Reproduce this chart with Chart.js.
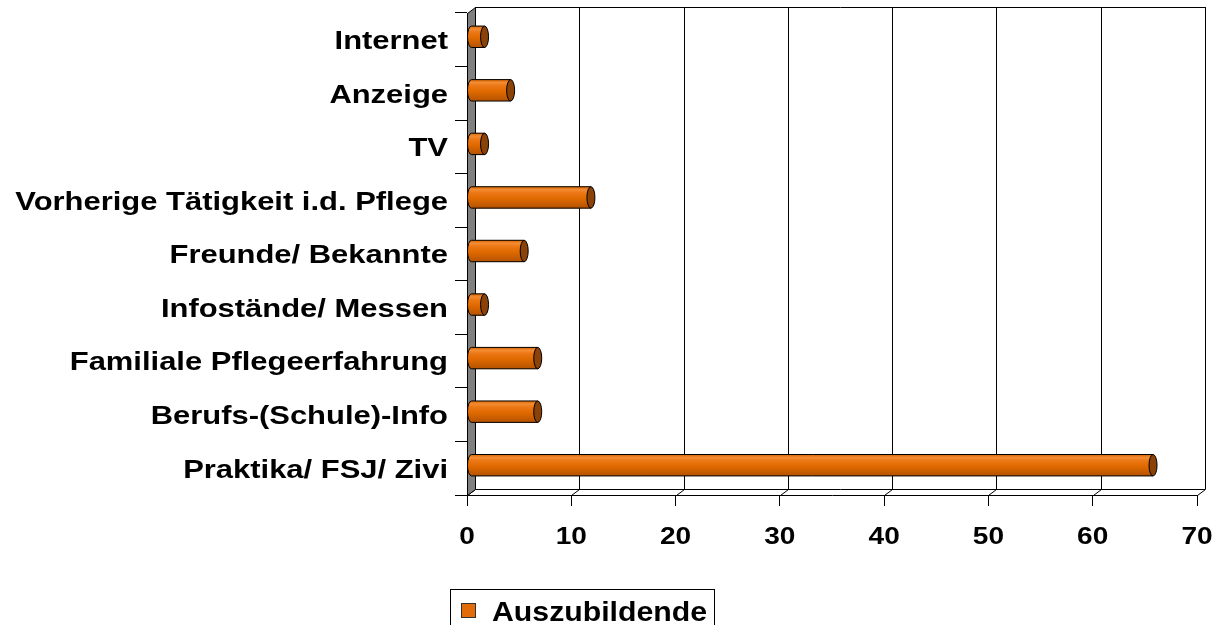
<!DOCTYPE html>
<html>
<head>
<meta charset="utf-8">
<script src="https://cdn.jsdelivr.net/npm/chart.js@4.4.1/dist/chart.umd.min.js"></script>
<style>
  html, body { margin: 0; padding: 0; background: #fff; }
  canvas { display: block; }
</style>
</head>
<body>
<canvas id="grafica" width="1222" height="625"></canvas>
<script>
// Daten (Prozent, von oben nach unten)
const kategorien = [
  'Internet',
  'Anzeige',
  'TV',
  'Vorherige Tätigkeit i.d. Pflege',
  'Freunde/ Bekannte',
  'Infostände/ Messen',
  'Familiale Pflegeerfahrung',
  'Berufs-(Schule)-Info',
  'Praktika/ FSJ/ Zivi'
];
const auszubildende = [1.3, 3.8, 1.3, 11.5, 5.1, 1.3, 6.4, 6.4, 65.4];
const xTicks = [0, 10, 20, 30, 40, 50, 60, 70];
const serienName = 'Auszubildende';

const TIEFE_X = 8, TIEFE_Y = -6;   // 3D-Tiefe der Rückwand
const FONT = '"Liberation Sans", Arial, sans-serif';

// gestreckte Schrift wie im Original
function textGestreckt(ctx, txt, x, y, size, sx, align) {
  ctx.save();
  ctx.font = 'bold ' + size + 'px ' + FONT;
  ctx.fillStyle = '#000';
  ctx.textAlign = align;
  ctx.textBaseline = 'alphabetic';
  ctx.translate(x, y);
  ctx.scale(sx, 1);
  ctx.fillText(txt, 0, 0);
  ctx.restore();
}

function zylinder(ctx, el) {
  const { x, y, base, height } = el.getProps(['x', 'y', 'base', 'height'], true);
  const top = y - height / 2, bot = y + height / 2;
  const rx = 4;
  const g = ctx.createLinearGradient(0, top, 0, bot);
  g.addColorStop(0, '#d86600');
  g.addColorStop(0.14, '#f38c34');
  g.addColorStop(0.28, '#ec7816');
  g.addColorStop(0.55, '#e06a00');
  g.addColorStop(1, '#b45200');
  ctx.beginPath();
  ctx.moveTo(x, top);
  ctx.lineTo(base, top);
  ctx.ellipse(base, y, rx, height / 2, 0, -Math.PI / 2, Math.PI / 2, true);
  ctx.lineTo(x, bot);
  ctx.closePath();
  ctx.fillStyle = g;
  ctx.fill();
  ctx.strokeStyle = '#000';
  ctx.lineWidth = 1;
  ctx.stroke();
  // Deckel
  ctx.beginPath();
  ctx.ellipse(x, y, rx, height / 2, 0, 0, Math.PI * 2);
  ctx.fillStyle = '#8a4208';
  ctx.fill();
  ctx.stroke();
}

const rahmen3d = {
  id: 'rahmen3d',
  beforeDatasetsDraw(chart) {
    const ctx = chart.ctx;
    const a = chart.chartArea;
    const sx = chart.scales.x;
    ctx.save();
    ctx.strokeStyle = '#000';
    ctx.lineWidth = 1;
    // Rückwand-Gitter
    xTicks.forEach(v => {
      const px = Math.round(sx.getPixelForValue(v)) + 0.5;
      ctx.beginPath();
      ctx.moveTo(px + TIEFE_X, a.top + TIEFE_Y);
      ctx.lineTo(px + TIEFE_X, a.bottom + TIEFE_Y);
      ctx.stroke();
      // Boden-Diagonalen
      ctx.beginPath();
      ctx.moveTo(px, a.bottom + 0.5);
      ctx.lineTo(px + TIEFE_X, a.bottom + TIEFE_Y + 0.5);
      ctx.stroke();
    });
    const l = a.left + 0.5, r = Math.round(sx.getPixelForValue(70)) + 0.5;
    ctx.beginPath();
    ctx.moveTo(l + TIEFE_X, a.top + TIEFE_Y + 0.5);
    ctx.lineTo(r + TIEFE_X, a.top + TIEFE_Y + 0.5);
    ctx.moveTo(l + TIEFE_X, a.bottom + TIEFE_Y + 0.5);
    ctx.lineTo(r + TIEFE_X, a.bottom + TIEFE_Y + 0.5);
    ctx.stroke();
    // linke Seitenwand
    ctx.beginPath();
    ctx.moveTo(l, a.top + 0.5);
    ctx.lineTo(l + TIEFE_X, a.top + TIEFE_Y + 0.5);
    ctx.lineTo(l + TIEFE_X, a.bottom + TIEFE_Y + 0.5);
    ctx.lineTo(l, a.bottom + 0.5);
    ctx.closePath();
    ctx.fillStyle = '#808080';
    ctx.fill();
    ctx.stroke();
    ctx.restore();

    // Balken in der Mitte der Tiefe
    ctx.save();
    ctx.translate(TIEFE_X / 2, TIEFE_Y / 2);
  },
  afterDatasetsDraw(chart) {
    const ctx = chart.ctx;
    chart.getDatasetMeta(0).data.forEach(el => zylinder(ctx, el));
    ctx.restore();
  },
  afterDraw(chart) {
    const ctx = chart.ctx;
    const sx = chart.scales.x, sy = chart.scales.y;
    // Kategorien
    kategorien.forEach((k, i) => {
      const py = sy.getPixelForTick(i);
      textGestreckt(ctx, k, 448, py + 9.3, 26, 1.19, 'right');
    });
    // Werte-Achse
    xTicks.forEach(v => {
      textGestreckt(ctx, String(v), sx.getPixelForValue(v), 543.5, 23, 1.22, 'center');
    });
    // Legende
    ctx.save();
    ctx.strokeStyle = '#000';
    ctx.lineWidth = 1;
    ctx.strokeRect(450.5, 589.5, 264, 50);
    ctx.fillStyle = '#e36c0a';
    ctx.fillRect(461, 603, 15, 15);
    ctx.strokeStyle = '#333';
    ctx.strokeRect(461.5, 603.5, 14, 14);
    ctx.restore();
    textGestreckt(ctx, chart.data.datasets[0].label, 492, 621, 27, 1.12, 'left');
  }
};

new Chart(document.getElementById('grafica'), {
  type: 'bar',
  data: {
    labels: kategorien,
    datasets: [{
      label: serienName,
      data: auszubildende,
      backgroundColor: '#e36c0a',
      borderWidth: 0,
      categoryPercentage: 0.4,
      barPercentage: 1
    }]
  },
  options: {
    indexAxis: 'y',
    responsive: false,
    animation: false,
    devicePixelRatio: 1,
    layout: { padding: { left: 0, top: 13, right: 25, bottom: 70 } },
    plugins: { legend: { display: false }, tooltip: { enabled: false } },
    scales: {
      x: {
        min: 0,
        max: 70,
        ticks: { stepSize: 10, display: false },
        grid: { drawOnChartArea: false, color: '#000', tickLength: 11 },
        border: { display: true, color: '#000' },
        afterFit(scale) { scale.height = 60; }
      },
      y: {
        ticks: { display: false },
        grid: { drawOnChartArea: false, color: '#000', tickLength: 12 },
        border: { display: true, color: '#000' },
        afterFit(scale) { scale.width = 467; }
      }
    }
  },
  plugins: [rahmen3d]
});
</script>
</body>
</html>
